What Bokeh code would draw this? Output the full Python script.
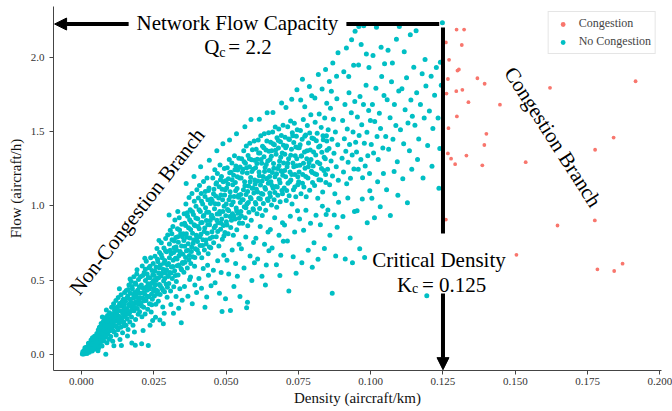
from bokeh.plotting import figure
from bokeh.models import (Range1d, FixedTicker, NumeralTickFormatter, Label, Arrow,
                          NormalHead, Legend, LegendItem)
from bokeh.embed import file_html
from bokeh.resources import INLINE

capacity = 2.2
critical_density = 0.125
x_ticks = [0.0, 0.025, 0.05, 0.075, 0.1, 0.125, 0.15, 0.175, 0.2]
y_ticks = [0.0, 0.5, 1.0, 1.5, 2.0]

congestion_density = [0.1297, 0.1323, 0.1260, 0.1315, 0.1271, 0.1300, 0.1305, 0.1267, 0.1369,
                      0.1394, 0.1620, 0.1916, 0.1262, 0.1296, 0.1317, 0.1338, 0.1447, 0.1298,
                      0.1269, 0.1400, 0.1840, 0.1393, 0.1776, 0.1267, 0.1278, 0.1331, 0.1292,
                      0.1386, 0.1536, 0.1260, 0.1646, 0.1775, 0.1504, 0.1784, 0.1842, 0.1871]
congestion_flow = [2.187, 2.187, 2.100, 2.083, 1.983, 1.911, 1.918, 1.854, 1.859,
                   1.822, 1.795, 1.839, 1.756, 1.772, 1.781, 1.698, 1.681, 1.602,
                   1.523, 1.485, 1.460, 1.410, 1.378, 1.353, 1.318, 1.339, 1.281,
                   1.273, 1.294, 0.908, 0.868, 0.902, 0.671, 0.573, 0.562, 0.611]

# no-congestion observations (density, flow), grouped by density range
nc_0_to_01 = [
    (0.0003,0.004),(0.0006,0.012),(0.0008,0.003),(0.0011,0.021),(0.0013,0.009),(0.0016,0.034),(0.0018,0.018),(0.0021,0.041),(0.0023,0.027),(0.0026,0.052),(0.0027,0.015),(0.0029,0.063),(0.0031,0.038),(0.0034,0.071),(0.0035,0.047),(0.0037,0.024),(0.0039,0.082),(0.0041,0.059),(0.0043,0.095),(0.0044,0.036),(0.0046,0.073),(0.0048,0.108),(0.0049,0.051),(0.0012,0.045),(0.0024,0.075),(0.0033,0.098),(0.0045,0.122),(0.0019,0.006),(0.0038,0.113),
    (0.0051,0.087),(0.0053,0.142),(0.0054,0.061),(0.0056,0.118),(0.0058,0.165),(0.0059,0.044),(0.0061,0.097),(0.0062,0.183),(0.0064,0.131),(0.0065,0.072),(0.0067,0.155),(0.0068,0.208),(0.0070,0.109),(0.0071,0.058),(0.0073,0.176),(0.0074,0.137),(0.0076,0.224),(0.0077,0.091),(0.0079,0.195),(0.0080,0.148),(0.0082,0.247),(0.0083,0.116),(0.0084,0.002),(0.0085,0.171),(0.0087,0.213),(0.0088,0.079),(0.0090,0.262),(0.0091,0.139),(0.0093,0.188),(0.0094,0.235),(0.0096,0.103),(0.0097,0.281),(0.0098,0.159),(0.0099,0.207),(0.0057,0.025),(0.0072,0.252),(0.0086,0.299),
]
nc_01_to_02 = [
    (0.0101,0.121),(0.0102,0.234),(0.0104,0.318),(0.0105,0.176),(0.0107,0.271),(0.0108,0.089),(0.0110,0.205),(0.0111,0.342),(0.0113,0.152),(0.0114,0.296),(0.0116,0.247),(0.0117,0.193),(0.0119,0.363),(0.0120,0.131),(0.0121,0.278),(0.0123,0.226),(0.0124,0.319),(0.0126,0.167),(0.0127,0.384),(0.0129,0.259),(0.0130,0.211),(0.0132,0.343),(0.0133,0.101),(0.0134,0.295),(0.0136,0.184),(0.0137,0.402),(0.0139,0.241),(0.0140,0.327),(0.0142,0.146),(0.0143,0.276),(0.0145,0.371),(0.0146,0.219),(0.0148,0.308),(0.0149,0.418),(0.0112,0.059),(0.0131,0.442),(0.0138,0.061),(0.0147,0.193),
    (0.0151,0.262),(0.0152,0.358),(0.0154,0.197),(0.0155,0.431),(0.0157,0.305),(0.0158,0.239),(0.0160,0.394),(0.0161,0.168),(0.0163,0.336),(0.0164,0.467),(0.0166,0.281),(0.0167,0.218),(0.0169,0.412),(0.0170,0.354),(0.0172,0.491),(0.0173,0.252),(0.0175,0.318),(0.0176,0.443),(0.0178,0.196),(0.0179,0.379),(0.0181,0.523),(0.0182,0.294),(0.0184,0.418),(0.0185,0.347),(0.0187,0.236),(0.0188,0.472),(0.0190,0.388),(0.0191,0.541),(0.0193,0.309),(0.0194,0.432),(0.0196,0.271),(0.0197,0.505),(0.0199,0.364),(0.0200,0.455),(0.0159,0.124),(0.0174,0.078),(0.0183,0.151),(0.0192,0.571),(0.0168,0.508),(0.0186,0.062),
]
nc_02_to_03 = [
    (0.0201,0.287),(0.0203,0.412),(0.0204,0.523),(0.0206,0.348),(0.0207,0.467),(0.0209,0.254),(0.0210,0.596),(0.0212,0.381),(0.0214,0.445),(0.0215,0.318),(0.0217,0.552),(0.0218,0.409),(0.0220,0.273),(0.0221,0.498),(0.0223,0.363),(0.0224,0.627),(0.0226,0.432),(0.0227,0.541),(0.0229,0.305),(0.0230,0.476),(0.0232,0.389),(0.0233,0.583),(0.0235,0.342),(0.0236,0.517),(0.0238,0.452),(0.0239,0.651),(0.0241,0.286),(0.0242,0.406),(0.0244,0.566),(0.0245,0.371),(0.0247,0.489),(0.0248,0.612),(0.0249,0.428),(0.0208,0.073),(0.0231,0.061),(0.0213,0.162),(0.0246,0.228),(0.0219,0.647),(0.0237,0.197),
    (0.0251,0.532),(0.0252,0.394),(0.0254,0.661),(0.0255,0.467),(0.0257,0.338),(0.0258,0.589),(0.0260,0.512),(0.0261,0.713),(0.0263,0.427),(0.0264,0.624),(0.0266,0.358),(0.0267,0.548),(0.0269,0.471),(0.0270,0.687),(0.0272,0.403),(0.0273,0.602),(0.0275,0.528),(0.0276,0.752),(0.0278,0.446),(0.0279,0.651),(0.0281,0.319),(0.0282,0.573),(0.0284,0.495),(0.0285,0.717),(0.0287,0.423),(0.0288,0.633),(0.0290,0.548),(0.0291,0.781),(0.0293,0.472),(0.0294,0.691),(0.0296,0.386),(0.0297,0.604),(0.0299,0.527),(0.0256,0.251),(0.0271,0.233),(0.0286,0.278),(0.0298,0.804),(0.0268,0.768),(0.0283,0.207),(0.0259,0.432),
]
nc_03_to_04 = [
    (0.0301,0.612),(0.0302,0.478),(0.0304,0.743),(0.0305,0.551),(0.0307,0.836),(0.0308,0.427),(0.0310,0.678),(0.0311,0.589),(0.0313,0.772),(0.0314,0.512),(0.0316,0.861),(0.0317,0.634),(0.0319,0.456),(0.0320,0.719),(0.0322,0.563),(0.0323,0.905),(0.0325,0.647),(0.0326,0.788),(0.0328,0.491),(0.0329,0.702),(0.0331,0.598),(0.0332,0.847),(0.0334,0.535),(0.0335,0.756),(0.0337,0.665),(0.0338,0.921),(0.0340,0.442),(0.0341,0.694),(0.0343,0.812),(0.0344,0.578),(0.0346,0.731),(0.0347,0.876),(0.0349,0.619),(0.0309,0.336),(0.0318,0.278),(0.0327,0.391),(0.0336,0.312),(0.0345,0.214),(0.0348,0.365),(0.0303,0.938),(0.0333,0.962),
    (0.0351,0.674),(0.0352,0.812),(0.0354,0.553),(0.0355,0.947),(0.0357,0.729),(0.0358,0.621),(0.0360,0.868),(0.0361,1.012),(0.0363,0.698),(0.0364,0.789),(0.0366,0.582),(0.0367,0.931),(0.0369,0.746),(0.0370,0.853),(0.0372,1.056),(0.0373,0.667),(0.0375,0.784),(0.0376,0.974),(0.0378,0.612),(0.0379,0.891),(0.0381,0.723),(0.0382,1.083),(0.0384,0.816),(0.0385,0.657),(0.0387,0.942),(0.0388,0.771),(0.0390,1.031),(0.0391,0.594),(0.0393,0.866),(0.0394,0.712),(0.0396,0.997),(0.0397,0.803),(0.0399,1.109),(0.0356,0.458),(0.0368,0.392),(0.0374,0.505),(0.0383,0.341),(0.0392,0.467),(0.0398,0.418),(0.0362,1.151),(0.0389,1.198),(0.0377,0.521),
]
nc_04_to_05 = [
    (0.0401,0.761),(0.0402,0.913),(0.0404,1.054),(0.0405,0.682),(0.0407,0.847),(0.0408,1.137),(0.0410,0.734),(0.0411,0.962),(0.0413,0.809),(0.0414,1.083),(0.0416,0.651),(0.0417,0.889),(0.0419,1.012),(0.0420,0.772),(0.0422,1.164),(0.0423,0.936),(0.0425,0.704),(0.0426,0.851),(0.0428,1.097),(0.0429,0.987),(0.0431,0.743),(0.0432,0.902),(0.0434,1.188),(0.0435,0.816),(0.0437,1.041),(0.0438,0.678),(0.0440,0.958),(0.0441,1.121),(0.0443,0.874),(0.0444,0.781),(0.0446,1.016),(0.0447,0.719),(0.0449,0.931),(0.0406,0.512),(0.0415,0.445),(0.0421,0.578),(0.0433,0.387),(0.0439,0.534),(0.0448,0.462),(0.0427,0.318),(0.0412,1.263),(0.0442,1.307),(0.0436,0.601),
    (0.0451,0.826),(0.0452,1.034),(0.0454,1.187),(0.0455,0.918),(0.0457,0.752),(0.0458,1.112),(0.0460,0.981),(0.0461,1.243),(0.0463,0.864),(0.0464,1.067),(0.0466,0.793),(0.0467,1.156),(0.0469,0.945),(0.0470,1.218),(0.0472,0.887),(0.0473,1.012),(0.0475,0.731),(0.0476,1.129),(0.0478,0.962),(0.0479,1.276),(0.0481,0.843),(0.0482,1.074),(0.0484,1.198),(0.0485,0.912),(0.0487,0.776),(0.0488,1.041),(0.0490,1.163),(0.0491,0.868),(0.0493,0.997),(0.0494,1.251),(0.0496,0.821),(0.0497,1.108),(0.0499,0.934),(0.0456,0.567),(0.0462,0.483),(0.0471,0.631),(0.0477,0.412),(0.0483,0.552),(0.0492,0.668),(0.0498,0.376),(0.0468,1.372),(0.0489,1.418),(0.0486,0.289),
]
nc_05_to_06 = [
    (0.0501,0.893),(0.0502,1.121),(0.0504,1.257),(0.0505,0.976),(0.0507,0.812),(0.0508,1.183),(0.0510,1.041),(0.0511,1.312),(0.0513,0.928),(0.0514,1.096),(0.0516,0.854),(0.0517,1.227),(0.0519,1.008),(0.0520,1.289),(0.0522,0.947),(0.0523,1.142),(0.0525,0.802),(0.0526,1.206),(0.0528,1.063),(0.0529,1.337),(0.0531,0.912),(0.0532,1.158),(0.0534,1.268),(0.0535,0.986),(0.0537,0.839),(0.0538,1.117),(0.0540,1.241),(0.0541,0.951),(0.0543,1.072),(0.0544,1.321),(0.0546,0.884),(0.0547,1.187),(0.0549,1.023),(0.0503,0.634),(0.0509,0.541),(0.0515,0.296),(0.0521,0.703),(0.0527,0.458),(0.0533,0.612),(0.0539,0.527),(0.0545,0.742),(0.0512,1.443),(0.0536,1.486),(0.0548,0.391),
    (0.0551,0.962),(0.0552,1.187),(0.0554,1.318),(0.0555,1.041),(0.0557,0.883),(0.0558,1.246),(0.0560,1.108),(0.0561,1.372),(0.0563,0.994),(0.0564,1.163),(0.0566,0.921),(0.0567,1.287),(0.0569,1.076),(0.0570,1.404),(0.0572,1.012),(0.0573,1.221),(0.0575,0.867),(0.0576,1.339),(0.0578,1.134),(0.0579,0.958),(0.0581,1.263),(0.0582,1.421),(0.0584,1.057),(0.0585,1.192),(0.0587,0.903),(0.0588,1.311),(0.0590,1.119),(0.0591,1.378),(0.0593,0.981),(0.0594,1.246),(0.0596,1.087),(0.0597,1.436),(0.0599,1.174),(0.0553,0.712),(0.0562,0.582),(0.0568,0.791),(0.0574,0.351),(0.0583,0.663),(0.0589,0.498),(0.0595,0.754),(0.0571,0.315),(0.0565,1.532),(0.0586,1.581),(0.0598,0.618),
]
nc_06_to_07 = [
    (0.0601,1.023),(0.0602,1.256),(0.0604,1.381),(0.0605,1.112),(0.0607,0.948),(0.0608,1.314),(0.0610,1.167),(0.0611,1.443),(0.0613,1.052),(0.0614,1.228),(0.0616,0.982),(0.0617,1.356),(0.0619,1.141),(0.0620,1.472),(0.0622,1.083),(0.0623,1.287),(0.0625,0.936),(0.0626,1.402),(0.0628,1.198),(0.0629,1.017),(0.0631,1.331),(0.0632,1.486),(0.0634,1.124),(0.0635,1.259),(0.0637,0.971),(0.0638,1.376),(0.0640,1.182),(0.0641,1.437),(0.0643,1.046),(0.0644,1.303),(0.0646,1.153),(0.0647,1.492),(0.0649,1.238),(0.0603,0.783),(0.0609,0.642),(0.0618,0.861),(0.0624,0.527),(0.0633,0.742),(0.0639,0.603),(0.0645,0.824),(0.0636,0.468),(0.0615,1.583),(0.0642,1.627),(0.0648,0.698),
    (0.0651,1.087),(0.0652,1.312),(0.0654,1.428),(0.0655,1.163),(0.0657,1.006),(0.0658,1.371),(0.0660,1.224),(0.0661,1.497),(0.0663,1.118),(0.0664,1.286),(0.0666,1.042),(0.0667,1.412),(0.0669,1.196),(0.0670,1.531),(0.0672,1.131),(0.0673,1.347),(0.0675,0.991),(0.0676,1.458),(0.0678,1.252),(0.0679,1.071),(0.0681,1.389),(0.0682,1.518),(0.0684,1.176),(0.0685,1.302),(0.0687,1.028),(0.0688,1.431),(0.0690,1.237),(0.0691,1.474),(0.0693,1.103),(0.0694,1.356),(0.0696,1.207),(0.0697,1.542),(0.0699,1.289),(0.0653,0.842),(0.0659,0.717),(0.0668,0.921),(0.0674,0.604),(0.0683,0.803),(0.0689,0.668),(0.0695,0.887),(0.0686,0.531),(0.0662,1.628),(0.0692,1.693),(0.0698,0.762),
]
nc_07_to_08 = [
    (0.0701,1.121),(0.0703,1.348),(0.0704,1.462),(0.0706,1.196),(0.0708,1.037),(0.0709,1.403),(0.0711,1.263),(0.0713,1.532),(0.0714,1.152),(0.0716,1.317),(0.0718,1.068),(0.0719,1.447),(0.0721,1.228),(0.0723,1.571),(0.0724,1.174),(0.0726,1.381),(0.0728,1.013),(0.0729,1.493),(0.0731,1.289),(0.0733,1.109),(0.0734,1.426),(0.0736,1.557),(0.0738,1.212),(0.0739,1.338),(0.0741,1.062),(0.0743,1.468),(0.0744,1.271),(0.0746,1.512),(0.0748,1.143),(0.0749,1.392),(0.0702,0.872),(0.0712,0.763),(0.0717,0.428),(0.0722,0.931),(0.0732,0.657),(0.0737,0.824),(0.0742,0.547),(0.0747,0.968),(0.0707,1.662),(0.0727,1.718),(0.0745,1.781),
    (0.0751,1.163),(0.0753,1.391),(0.0755,1.274),(0.0757,1.507),(0.0759,1.082),(0.0761,1.336),(0.0763,1.448),(0.0765,1.211),(0.0767,1.582),(0.0769,1.127),(0.0771,1.362),(0.0773,1.253),(0.0775,1.478),(0.0777,1.062),(0.0779,1.318),(0.0781,1.541),(0.0783,1.187),(0.0785,1.423),(0.0787,1.291),(0.0789,1.106),(0.0791,1.376),(0.0793,1.613),(0.0795,1.234),(0.0797,1.457),(0.0799,1.158),(0.0754,0.912),(0.0762,0.618),(0.0768,0.836),(0.0776,0.971),(0.0784,0.702),(0.0792,0.883),(0.0798,0.587),(0.0758,1.712),(0.0772,1.667),(0.0788,1.804),(0.0796,1.742),(0.0764,1.853),
]
nc_08_to_10 = [
    (0.0801,1.268),(0.0803,1.452),(0.0806,1.137),(0.0808,1.563),(0.0810,1.342),(0.0813,1.211),(0.0815,1.489),(0.0817,1.052),(0.0820,1.396),(0.0822,1.618),(0.0824,1.284),(0.0827,1.174),(0.0829,1.527),(0.0831,1.361),(0.0834,1.093),(0.0836,1.446),(0.0838,1.238),(0.0841,1.592),(0.0843,1.317),(0.0845,1.158),(0.0847,1.472),(0.0849,1.374),(0.0804,0.752),(0.0811,0.937),(0.0818,0.641),(0.0826,0.874),(0.0833,0.998),(0.0840,0.713),(0.0846,0.942),(0.0807,1.726),(0.0819,1.884),(0.0832,1.787),(0.0844,1.918),(0.0848,1.691),
    (0.0851,1.247),(0.0853,1.512),(0.0856,1.386),(0.0858,1.143),(0.0861,1.657),(0.0863,1.302),(0.0866,1.448),(0.0868,1.201),(0.0871,1.583),(0.0873,1.354),(0.0876,1.081),(0.0878,1.497),(0.0881,1.263),(0.0883,1.721),(0.0886,1.412),(0.0888,1.172),(0.0852,0.973),(0.0859,0.802),(0.0867,0.412),(0.0874,0.938),(0.0879,0.663),(0.0884,0.857),(0.0889,1.024),(0.0857,1.838),(0.0869,1.962),(0.0882,1.873),(0.0887,2.031),(0.0864,1.771),
    (0.0901,1.321),(0.0903,1.574),(0.0906,1.228),(0.0909,1.452),(0.0911,1.683),(0.0914,1.367),(0.0917,1.149),(0.0919,1.518),(0.0922,1.294),(0.0925,1.762),(0.0927,1.413),(0.0930,1.186),(0.0933,1.627),(0.0936,1.342),(0.0939,1.497),(0.0942,1.248),(0.0945,1.703),(0.0948,1.428),(0.0904,0.928),(0.0912,0.642),(0.0921,1.053),(0.0929,0.784),(0.0937,0.618),(0.0944,0.963),(0.0907,1.903),(0.0916,2.062),(0.0924,1.871),(0.0934,2.118),(0.0941,1.947),(0.0946,2.176),
    (0.0951,1.362),(0.0954,1.598),(0.0957,1.247),(0.0960,1.473),(0.0963,1.736),(0.0966,1.312),(0.0969,1.547),(0.0972,1.189),(0.0975,1.683),(0.0978,1.421),(0.0981,1.268),(0.0984,1.812),(0.0987,1.496),(0.0990,1.337),(0.0993,1.642),(0.0996,1.218),(0.0999,1.574),(0.0953,0.968),(0.0962,0.712),(0.0971,1.046),(0.0979,0.653),(0.0988,0.887),(0.0997,1.102),(0.0958,1.948),(0.0967,2.087),(0.0976,2.212),(0.0985,2.023),(0.0994,1.931),(0.0959,2.207),
]
nc_10_to_125 = [
    (0.1002,1.413),(0.1006,1.683),(0.1010,1.356),(0.1014,1.568),(0.1018,1.792),(0.1022,1.467),(0.1026,1.312),(0.1030,1.624),(0.1034,1.521),(0.1038,1.871),(0.1042,1.389),(0.1046,1.743),(0.1004,1.052),(0.1013,0.921),(0.1024,1.163),(0.1033,0.994),(0.1044,1.218),(0.1008,2.012),(0.1020,2.203),(0.1036,2.068),(0.1048,1.956),
    (0.1052,1.467),(0.1057,1.714),(0.1062,1.382),(0.1067,1.593),(0.1072,1.836),(0.1077,1.448),(0.1082,1.682),(0.1087,1.541),(0.1092,1.297),(0.1097,1.773),(0.1055,1.108),(0.1068,0.936),(0.1081,1.231),(0.1094,1.072),(0.1060,2.047),(0.1075,1.962),(0.1089,2.121),(0.1099,2.208),
    (0.1103,1.512),(0.1108,1.789),(0.1114,1.418),(0.1119,1.647),(0.1124,1.863),(0.1129,1.558),(0.1134,1.372),(0.1139,1.712),(0.1144,1.604),(0.1149,1.933),(0.1111,1.183),(0.1127,1.021),(0.1142,1.247),(0.1116,2.038),(0.1137,2.152),
    (0.1153,1.543),(0.1159,1.762),(0.1166,1.451),(0.1172,1.683),(0.1178,1.889),(0.1185,1.592),(0.1191,1.807),(0.1197,1.406),(0.1162,1.312),(0.1181,1.187),(0.1194,0.396),(0.1157,2.178),(0.1188,1.986),
    (0.1203,1.638),(0.1209,1.872),(0.1215,1.521),(0.1221,1.745),(0.1227,1.932),(0.1233,1.592),(0.1239,1.386),(0.1244,1.812),(0.1212,1.267),(0.1236,1.118),(0.1248,2.232),(0.1241,1.967),
]
# extra observations inside the dense core of the cloud
nc_core = [
    (0.00045,0.018),(0.0009,0.027),(0.00135,0.031),(0.0017,0.049),(0.00215,0.016),(0.0025,0.064),(0.00285,0.042),(0.0032,0.058),(0.00365,0.067),(0.0040,0.044),(0.00425,0.078),(0.00455,0.088),(0.0047,0.063),(0.00495,0.095),(0.0020,0.030),
    (0.00505,0.112),(0.00545,0.079),(0.00575,0.137),(0.00605,0.121),(0.0063,0.156),(0.00665,0.094),(0.00695,0.181),(0.00725,0.143),(0.0075,0.119),(0.00785,0.167),(0.00815,0.198),(0.00845,0.128),(0.0089,0.226),(0.00925,0.162),(0.00955,0.241),(0.0098,0.183),
    (0.01015,0.198),(0.0105,0.257),(0.01085,0.161),(0.01125,0.226),(0.0116,0.312),(0.01185,0.271),(0.0122,0.185),(0.01255,0.297),(0.0128,0.238),(0.01315,0.329),(0.01355,0.217),(0.0139,0.291),(0.0141,0.356),(0.01445,0.254),(0.0147,0.338),(0.01495,0.276),
    (0.0151,0.312),(0.01545,0.286),(0.0157,0.381),(0.01605,0.271),(0.0162,0.438),(0.01655,0.326),(0.01685,0.372),(0.0172,0.295),(0.01745,0.458),(0.0177,0.341),(0.01805,0.402),(0.01835,0.318),(0.0186,0.481),(0.01895,0.356),(0.0192,0.414),(0.01965,0.339),
    (0.02015,0.382),(0.02045,0.452),(0.0208,0.326),(0.02115,0.531),(0.0214,0.417),(0.02175,0.362),(0.0221,0.573),(0.02235,0.452),(0.0227,0.392),(0.02305,0.516),(0.0234,0.441),(0.0237,0.594),(0.02405,0.478),(0.0243,0.335),(0.02465,0.537),(0.02495,0.498),
    (0.02505,0.443),(0.0254,0.562),(0.02575,0.498),(0.0261,0.407),(0.0263,0.641),(0.02665,0.517),(0.0269,0.584),(0.02725,0.463),(0.0276,0.671),(0.02785,0.546),(0.0282,0.432),(0.02845,0.614),(0.0288,0.512),(0.02905,0.698),(0.0294,0.571),(0.0297,0.452),
    (0.03005,0.527),(0.0304,0.651),(0.03065,0.702),(0.0310,0.548),(0.03125,0.812),(0.0316,0.592),(0.03185,0.687),(0.0321,0.763),(0.03245,0.531),(0.0327,0.724),(0.03305,0.642),(0.0333,0.793),(0.03365,0.603),(0.0339,0.838),(0.03425,0.682),(0.0346,0.571),(0.0349,0.792),
    (0.03505,0.612),(0.0354,0.768),(0.03565,0.883),(0.0360,0.652),(0.03625,0.812),(0.0366,0.954),(0.0368,0.701),(0.03715,0.638),(0.0374,0.907),(0.03775,0.842),(0.0380,0.693),(0.03835,0.961),(0.0386,0.748),(0.03895,0.874),(0.0392,0.652),(0.03955,0.918),(0.0398,0.781),
    (0.04005,0.703),(0.0403,0.862),(0.04065,0.974),(0.0409,0.793),(0.04125,0.887),(0.0415,1.031),(0.04185,0.734),(0.0421,0.931),(0.04245,0.827),(0.0427,1.063),(0.04305,0.771),(0.0433,0.958),(0.04365,0.874),(0.0439,1.104),(0.04425,0.723),(0.0445,0.902),(0.04485,1.047),
    (0.04505,0.937),(0.0453,0.791),(0.04565,1.082),(0.0459,0.853),(0.04625,1.014),(0.0465,1.147),(0.04685,0.903),(0.0471,0.827),(0.04745,1.053),(0.0477,0.946),(0.04805,1.176),(0.0483,0.884),(0.04865,1.112),(0.0489,0.962),(0.04925,0.798),(0.0495,1.073),(0.04985,1.169),
    (0.05005,1.012),(0.0503,0.872),(0.05065,1.148),(0.0509,0.967),(0.05125,1.223),(0.0515,1.064),(0.05185,0.903),(0.0521,1.176),(0.05245,1.027),(0.0527,0.932),(0.05305,1.244),(0.0533,1.102),(0.05365,0.968),(0.0539,1.196),(0.05425,1.058),(0.0545,0.917),(0.05485,1.262),
    (0.05505,1.076),(0.0553,0.932),(0.05565,1.227),(0.0559,1.042),(0.05625,1.298),(0.0565,1.136),(0.05685,0.987),(0.0571,1.256),(0.05745,1.097),(0.0577,1.023),(0.05805,1.318),(0.0583,1.162),(0.05865,1.048),(0.0589,1.231),(0.05925,1.121),(0.0595,0.972),(0.05985,1.307),
    (0.06005,1.147),(0.0603,1.012),(0.06065,1.286),(0.0609,1.094),(0.06125,1.356),(0.0615,1.203),(0.06185,1.046),(0.0621,1.312),(0.06245,1.168),(0.0627,1.078),(0.06305,1.392),(0.0633,1.231),(0.06365,1.112),(0.0639,1.279),(0.06425,1.184),(0.0645,1.036),(0.06485,1.367),
    (0.06505,1.198),(0.0653,1.063),(0.06565,1.334),(0.0659,1.137),(0.06625,1.418),(0.0665,1.254),(0.06685,1.091),(0.0671,1.374),(0.06745,1.216),(0.0677,1.128),(0.06805,1.441),(0.0683,1.271),(0.06865,1.156),(0.0689,1.327),(0.06925,1.232),(0.0695,1.082),(0.06985,1.408),
    (0.07025,1.238),(0.0706,1.392),(0.07095,1.104),(0.0713,1.287),(0.07165,1.451),(0.0720,1.163),(0.07235,1.341),(0.0727,1.212),(0.07305,1.472),(0.0734,1.264),(0.07375,1.128),(0.0741,1.397),(0.07445,1.318),(0.0748,1.196),
    (0.07525,1.228),(0.0756,1.412),(0.07595,1.336),(0.0764,1.152),(0.07675,1.287),(0.0772,1.468),(0.07755,1.198),(0.0780,1.372),(0.07845,1.263),(0.0789,1.491),(0.07935,1.312),(0.0798,1.224),
    (0.08025,1.362),(0.0807,1.216),(0.0812,1.438),(0.0816,1.293),(0.0821,1.176),(0.0825,1.403),(0.0830,1.252),(0.0835,1.472),(0.0839,1.328),(0.0844,1.212),(0.0848,1.437),
]

nc_all = (nc_0_to_01 + nc_01_to_02 + nc_02_to_03 + nc_03_to_04 + nc_04_to_05 +
          nc_05_to_06 + nc_06_to_07 + nc_07_to_08 + nc_08_to_10 + nc_10_to_125 + nc_core)
nc_density = [d for d, f in nc_all]
nc_flow = [f for d, f in nc_all]

SERIF = "Liberation Serif"
CYAN = "#00BFC4"
SALMON = "#F8766D"

p = figure(width=672, height=411, output_backend="svg", toolbar_location=None,
           x_range=Range1d(-0.00968, 0.20056), y_range=Range1d(-0.1077, 2.342),
           min_border_left=53, min_border_right=11, min_border_top=6, min_border_bottom=41)
p.outline_line_color = None
p.xgrid.visible = False
p.ygrid.visible = False
p.background_fill_color = "white"
p.border_fill_color = "white"

r_red = p.scatter(congestion_density, congestion_flow, size=3.8, color=SALMON, line_color=None)
r_cyan = p.scatter(nc_density, nc_flow, size=5, color=CYAN, line_color=None)

for ax in (p.xaxis[0], p.yaxis[0]):
    ax.axis_line_color = "#444444"
    ax.major_tick_line_color = "#444444"
    ax.major_tick_out = 4
    ax.major_tick_in = 0
    ax.minor_tick_line_color = None
    ax.major_label_text_font = SERIF
    ax.major_label_text_font_size = "11px"
    ax.major_label_text_color = "#333333"
    ax.axis_label_text_font = SERIF
    ax.axis_label_text_font_size = "15px"
    ax.axis_label_text_font_style = "normal"
    ax.axis_label_text_color = "#111111"

p.xaxis[0].ticker = FixedTicker(ticks=x_ticks)
p.xaxis[0].formatter = NumeralTickFormatter(format="0.000")
p.xaxis[0].axis_label = "Density (aircraft/km)"
p.xaxis[0].major_label_standoff = 3
p.xaxis[0].axis_label_standoff = 2
p.yaxis[0].ticker = FixedTicker(ticks=y_ticks)
p.yaxis[0].formatter = NumeralTickFormatter(format="0.0")
p.yaxis[0].axis_label = "Flow (aircraft/h)"
p.yaxis[0].major_label_standoff = 5
p.yaxis[0].axis_label_standoff = 4

legend = Legend(items=[LegendItem(label="Congestion", renderers=[r_red]),
                       LegendItem(label="No Congestion", renderers=[r_cyan])],
                location="top_right", margin=5, padding=4, spacing=3,
                glyph_width=20, glyph_height=12, label_height=12, label_standoff=6,
                label_text_font=SERIF, label_text_font_size="12px",
                border_line_color="#cccccc", border_line_width=1)
p.add_layout(legend)

# arrows (drawn in two pieces around the labels)
arrow_y = capacity + 0.024
p.add_layout(Arrow(end=None, x_start=critical_density - 0.0013, y_start=arrow_y,
                   x_end=0.0916, y_end=arrow_y, line_width=4, line_color="black"))
p.add_layout(Arrow(end=NormalHead(size=12, fill_color="black", line_color="black"),
                   x_start=0.0163, y_start=arrow_y, x_end=-0.0093, y_end=arrow_y,
                   line_width=4, line_color="black"))
p.add_layout(Arrow(end=None, x_start=critical_density, y_start=capacity,
                   x_end=critical_density, y_end=0.814, line_width=4, line_color="black"))
p.add_layout(Arrow(end=NormalHead(size=12, fill_color="black", line_color="black"),
                   x_start=critical_density, y_start=0.410, x_end=critical_density, y_end=-0.102,
                   line_width=4, line_color="black"))

def lab(text, x, y, size="21px", align="left", x_off=0, y_off=0, angle=0, baseline="alphabetic"):
    p.add_layout(Label(text=text, x=x, y=y, x_offset=x_off, y_offset=y_off, angle=angle,
                       text_font=SERIF, text_font_size=size, text_align=align,
                       text_baseline=baseline, text_color="black"))

cap_x = 0.0539
lab("Network Flow Capacity", cap_x, 2.229, align="center")
lab("Q", cap_x, 2.069, x_off=-33)
lab("c", cap_x, 2.069, size="14px", x_off=-18, y_off=-5)
lab("= 2.2", cap_x, 2.069, x_off=-9)

lab("Critical Density", critical_density, 0.637, align="center", x_off=-4)
lab("K", critical_density, 0.471, x_off=-46)
lab("c", critical_density, 0.471, size="14px", x_off=-31, y_off=-4)
lab("= 0.125", critical_density, 0.471, x_off=-21)

lab("Non-Congestion Branch", 0.0192, 0.962, align="center", angle=0.906, baseline="middle")
lab("Congestion Branch", 0.163, 1.464, align="center", angle=-1.002, baseline="middle")

open("out.html", "w").write(file_html(p, INLINE))
